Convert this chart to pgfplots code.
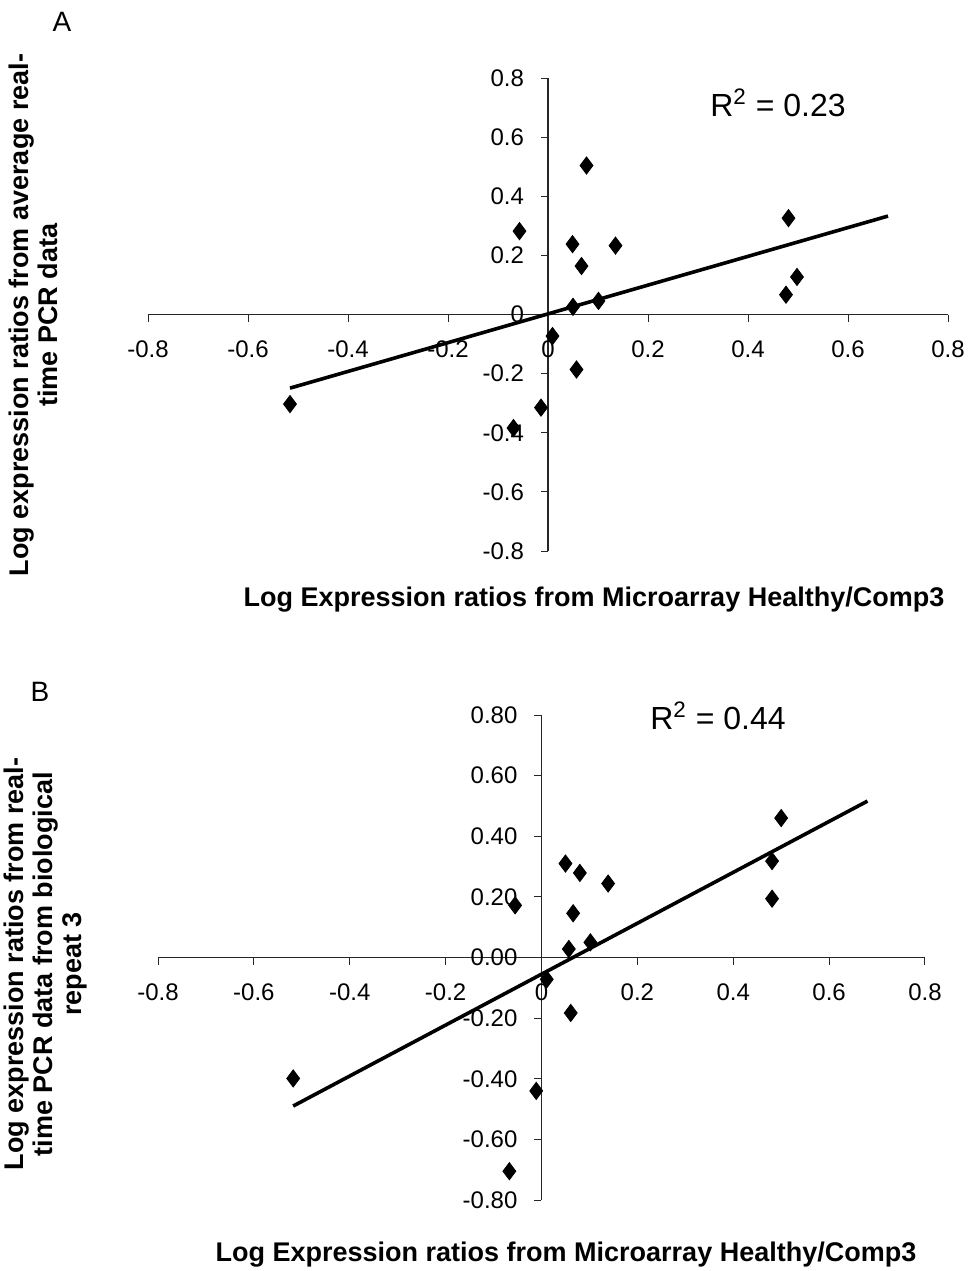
\documentclass[border=0pt]{standalone}
\usepackage{pgfplots}
\pgfplotsset{compat=1.18}
\usepackage{fontspec}
\setmainfont{Liberation Sans}
\pgfplotstableread{
x y
-0.516 -0.303
-0.069 -0.384
-0.014 -0.315
0.009 -0.073
0.057 -0.186
0.050 0.026
0.101 0.046
-0.057 0.282
0.049 0.238
0.067 0.164
0.077 0.504
0.135 0.233
0.481 0.326
0.476 0.067
0.498 0.127
}\dataA
\pgfplotstableread{
x y
-0.518 -0.399
-0.011 -0.440
-0.067 -0.705
0.011 -0.072
0.061 -0.183
0.057 0.028
0.102 0.050
-0.055 0.172
0.050 0.310
0.080 0.279
0.066 0.146
0.139 0.244
0.481 0.318
0.481 0.194
0.500 0.460
}\dataB
\pgfplotsset{
  myaxis/.style={
    scale only axis,
    anchor=south west,
    axis lines=middle,
    axis line style={-, black!85, line width=0.6pt},
    xmin=-0.8, xmax=0.8, ymin=-0.8, ymax=0.8,
    xtick={-0.8,-0.6,...,0.8},
    ytick={-0.8,-0.6,...,0.8},
    hide obscured x ticks=false,
    hide obscured y ticks=false,
    tick align=outside,
    major tick length=3.5pt,
    tick style={black!85, line width=0.5pt},
    ticklabel style={font=\fontsize{12}{14}\selectfont},
    /pgf/number format/assume math mode=true,
    xticklabel style={anchor=north, yshift=-6pt},
    yticklabel style={anchor=east, xshift=-5pt},
    clip=false,
  }
}
\begin{document}
\begin{tikzpicture}
\useasboundingbox (0,0) rectangle (485.5pt,-635.5pt);
% Panel A
\begin{axis}[myaxis, at={(74pt,-275.5pt)}, width=400pt, height=236.5pt,
  xticklabel style={/pgf/number format/.cd, fixed, precision=1},
  yticklabel style={/pgf/number format/.cd, fixed, precision=1}]
\addplot[only marks, mark=diamond*, mark size=4.3pt, black] table[x=x,y=y] {\dataA};
\addplot[black, line width=1.8pt] coordinates {(-0.516,-0.249) (0.680,0.333)};
\end{axis}
% Panel B
\begin{axis}[myaxis, at={(79pt,-600pt)}, width=383.5pt, height=242.5pt,
  xticklabel style={/pgf/number format/.cd, fixed, precision=1},
  yticklabel style={/pgf/number format/.cd, fixed, fixed zerofill, precision=2}]
\addplot[only marks, mark=diamond*, mark size=4.3pt, black] table[x=x,y=y] {\dataB};
\addplot[black, line width=1.8pt] coordinates {(-0.518,-0.490) (0.680,0.516)};
\end{axis}
% Texts
\node[font=\fontsize{14}{16}\selectfont] at (31pt,-11pt) {A};
\node[font=\fontsize{14}{16}\selectfont] at (20pt,-346pt) {B};
\node[font=\fontsize{16}{18}\selectfont] at (389pt,-51.5pt) {R\textsuperscript{2} = 0.23};
\node[font=\fontsize{16}{18}\selectfont] at (359pt,-358pt) {R\textsuperscript{2} = 0.44};
\node[font=\fontsize{13.5}{15}\selectfont\bfseries] at (297pt,-300pt) {Log Expression ratios from Microarray Healthy/Comp3};
\node[font=\fontsize{13.5}{15}\selectfont\bfseries] at (283pt,-627.5pt) {Log Expression ratios from Microarray Healthy/Comp3};
\node[rotate=90, align=center, font=\fontsize{13.5}{14.5}\selectfont\bfseries] at (16.5pt,-157.5pt) {Log expression ratios from average real-\\time PCR data};
\node[rotate=90, align=center, font=\fontsize{13.5}{14.5}\selectfont\bfseries] at (23pt,-482pt) {Log expression ratios from real-\\time PCR data from biological\\repeat 3};
\end{tikzpicture}
\end{document}
